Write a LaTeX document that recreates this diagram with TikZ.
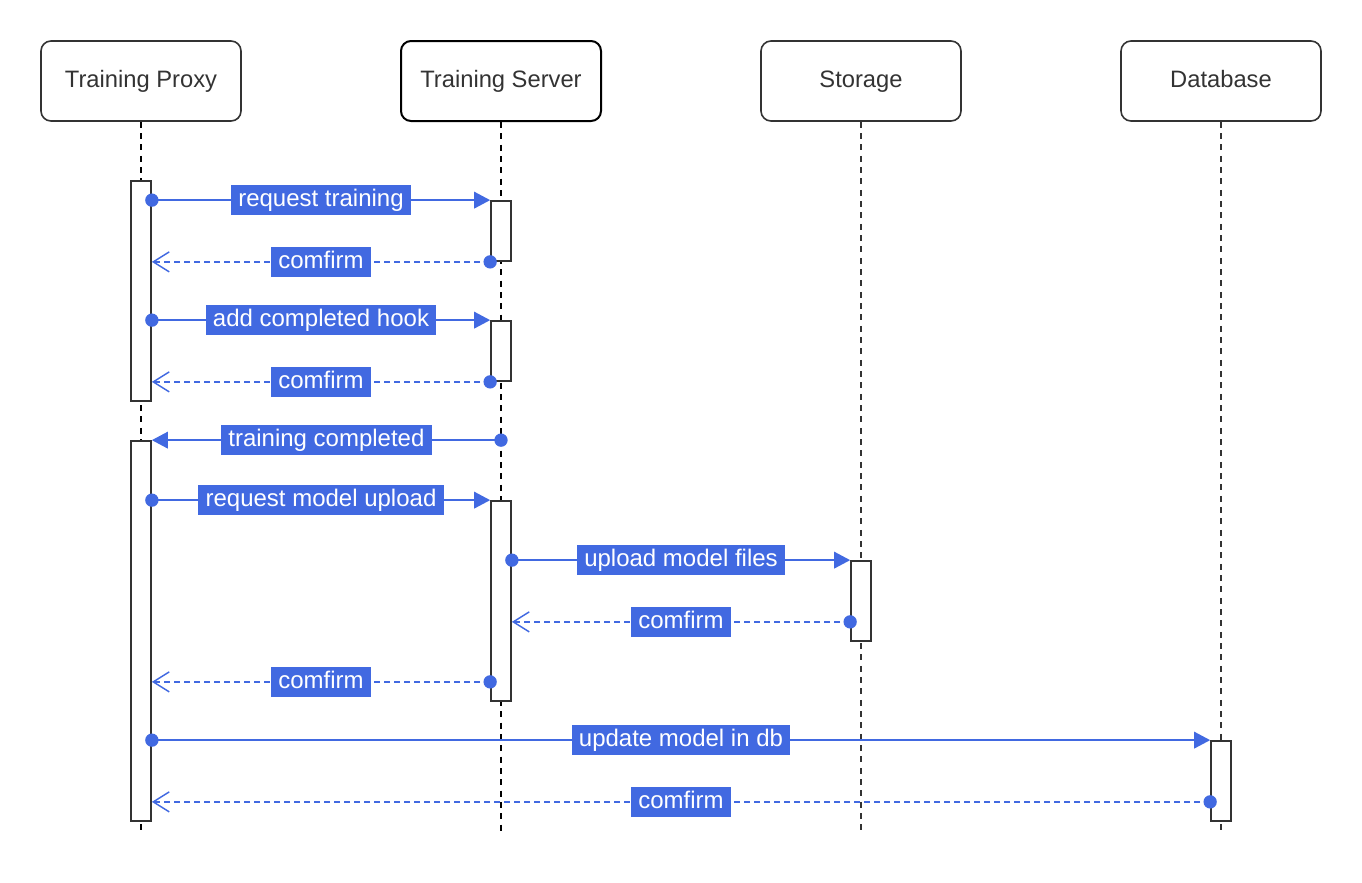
\documentclass[tikz,border=0pt]{standalone}
\usepackage{fontspec}
\setmainfont{Liberation Sans}
\usetikzlibrary{arrows.meta,fit,calc,positioning}

\definecolor{msgblue}{HTML}{4169E1}
\definecolor{darkline}{HTML}{333333}

\tikzset{
  actor/.style={draw=darkline, line width=1.2pt, rounded corners=7.5pt,
    minimum width=150pt, minimum height=60pt, text=darkline,
    text height=13pt, text depth=3.5pt,
    font=\fontsize{17.8pt}{21pt}\selectfont},
  lifeline/.style={draw=darkline, line width=1.4pt, dash pattern=on 4.5pt off 4pt},
  bar/.style={draw=darkline, fill=white, line width=1.3pt, inner sep=0pt},
  call/.style={draw=msgblue, line width=1.1pt, -{Triangle[length=12pt,width=12.5pt]}},
  reply/.style={draw=msgblue, line width=1.1pt, dash pattern=on 4.5pt off 3pt,
    -{Straight Barb[length=12pt,width=15pt]}},
  dot/.style={circle, fill=msgblue, inner sep=0pt, minimum size=10pt},
  msg/.style={fill=msgblue, text=white, inner xsep=5.5pt, inner ysep=0pt,
    minimum height=23pt, text height=13pt, text depth=3.5pt,
    font=\fontsize{18pt}{21pt}\selectfont}
}

\begin{document}
\begin{tikzpicture}[x=0.75pt, y=-0.75pt]
        \useasboundingbox (0,0) rectangle (1362,882);
        % actors
        \node[actor] (proxy) at (141,81) {Training Proxy};
        \node[actor, draw=black, line width=1.5pt] (server) at (501,81) {Training Server};
        \node[actor] (storage) at (861,81) {Storage};
        \node[actor] (db) at (1221,81) {Database};
        % lifelines
        \coordinate (bottom) at (0,835);
        \draw[lifeline, draw=black] (proxy.south) -- (proxy.south |- bottom);
        \draw[lifeline, draw=black] (server.south) -- (server.south |- bottom);
        \draw[lifeline] (storage.south) -- (storage.south |- bottom);
        \draw[lifeline] (db.south) -- (db.south |- bottom);
        % activations
        \node[bar, fit={(131,181) (151,401)}] (pa1) {};
        \node[bar, fit={(131,441) (151,821)}] (pa2) {};
        \node[bar, fit={(491,201) (511,261)}] (sa1) {};
        \node[bar, fit={(491,321) (511,381)}] (sa2) {};
        \node[bar, fit={(491,501) (511,701)}] (sa3) {};
        \node[bar, fit={(851,561) (871,641)}] (sta) {};
        \node[bar, fit={(1211,741) (1231,821)}] (dba) {};
        % messages
        \node[dot] (d1) at (pa1.east |- sa1.north) {};
        \draw[call] (d1.center) -- node[msg] (m1) {request training} (sa1.north west);
        \node[dot] (d2) at (sa1.south west) {};
        \draw[reply] (d2.center) -- node[msg] (m2) {comfirm} (pa1.east |- sa1.south);
        \node[dot] (d3) at (pa1.east |- sa2.north) {};
        \draw[call] (d3.center) -- node[msg] (m3) {add completed hook} (sa2.north west);
        \node[dot] (d4) at (sa2.south west) {};
        \draw[reply] (d4.center) -- node[msg] (m4) {comfirm} (pa1.east |- sa2.south);
        \node[dot] (d5) at (server.south |- pa2.north) {};
        \draw[call] (d5.center) -- node[msg] (m5) {training completed} (pa2.north east);
        \node[dot] (d6) at (pa2.east |- sa3.north) {};
        \draw[call] (d6.center) -- node[msg] (m6) {request model upload} (sa3.north west);
        \node[dot] (d7) at (sa3.east |- sta.north) {};
        \draw[call] (d7.center) -- node[msg] (m7) {upload model files} (sta.north west);
        \node[dot] (d8) at ($(sta.south west)+(0,-20)$) {};
        \draw[reply] (d8.center) -- node[msg] (m8) {comfirm} (sa3.east |- d8);
        \node[dot] (d9) at ($(sa3.south west)+(0,-20)$) {};
        \draw[reply] (d9.center) -- node[msg] (m9) {comfirm} (pa2.east |- d9);
        \node[dot] (d10) at (pa2.east |- dba.north) {};
        \draw[call] (d10.center) -- node[msg] (m10) {update model in db} (dba.north west);
        \node[dot] (d11) at ($(dba.south west)+(0,-20)$) {};
        \draw[reply] (d11.center) -- node[msg] (m11) {comfirm} (pa2.east |- d11);
\end{tikzpicture}
\end{document}
